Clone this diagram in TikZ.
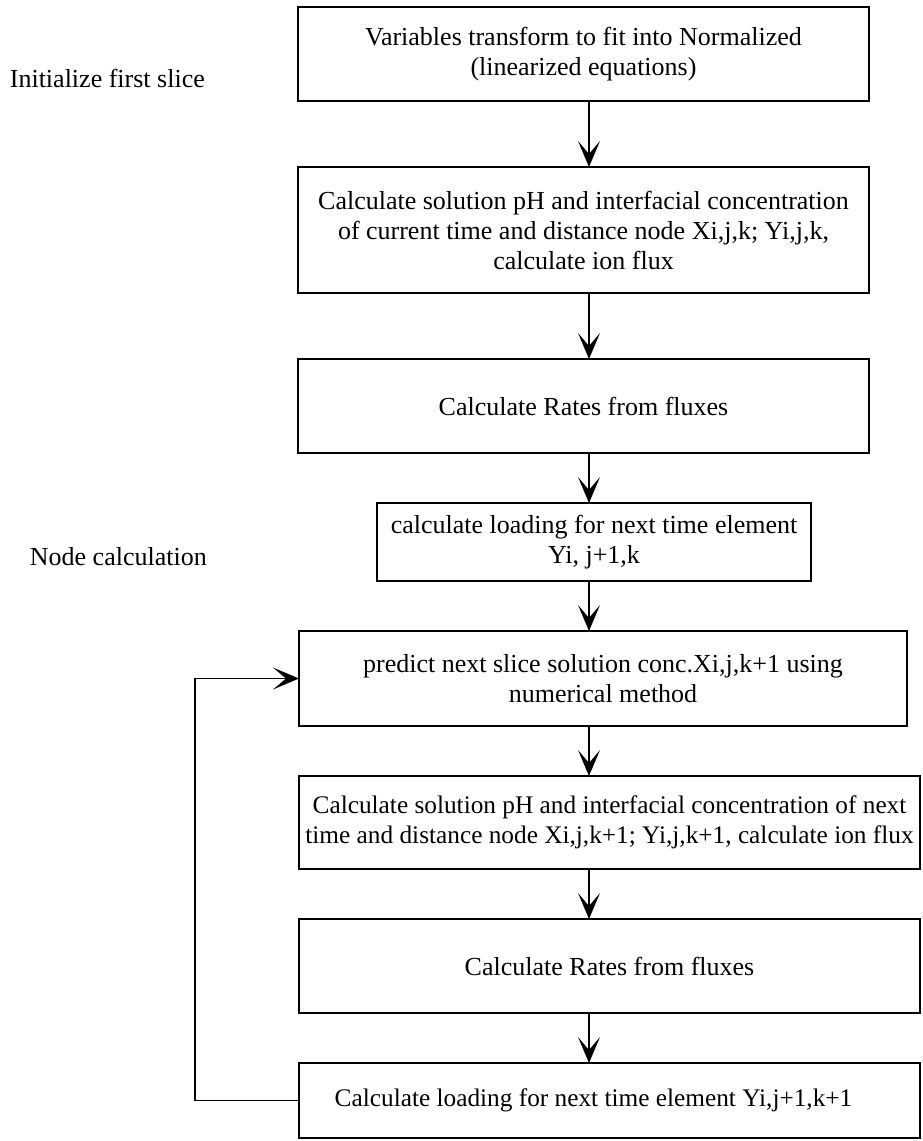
\documentclass[tikz,border=0pt]{standalone}
\usepackage{fontspec}
\setmainfont{Liberation Serif}
\usetikzlibrary{positioning}
\usetikzlibrary{arrows.meta}
\tikzstyle{box} = [draw, line width=2pt, rectangle, align=center, inner sep=2pt, outer sep=0pt, minimum width=571pt, minimum height=94pt]
\tikzstyle{note} = [anchor=east, inner sep=0pt]
\tikzstyle{tight} = [font=\fontsize{25.3}{30}\selectfont, inner sep=1pt]
\tikzstyle{flow} = [line width=1.3pt, -{Stealth[length=26pt,width=22pt,inset=13pt]}]

\begin{document}
\begin{tikzpicture}[
  x=1pt, y=-1pt,
  every node/.style={font=\fontsize{26}{30}\selectfont},
]
\useasboundingbox (0,0) rectangle (922,1141);

\node (b1) [box] at (583.5,54) {Variables transform to fit into Normalized\\(linearized equations)};
\node (b2) [box, minimum height=126pt, below=66pt of b1] {Calculate solution pH and interfacial concentration\\of current time and distance node Xi,j,k; Yi,j,k,\\calculate ion flux};
\node (b3) [box, below=66pt of b2] {Calculate Rates from fluxes};
\node (b4) [box, minimum width=434pt, minimum height=78pt, below right=50pt and 79pt of b3.south west] {calculate loading for next time element\\Yi, j+1,k};
\node (b5) [box, minimum width=608pt, minimum height=95pt, below=50pt of b4.south west, xshift=-78pt, anchor=north west] {predict next slice solution conc.Xi,j,k+1 using\\numerical method};
\node (b6) [box, tight, minimum width=621pt, minimum height=93pt, below=50pt of b5.south west, anchor=north west] {Calculate solution pH and interfacial concentration of next\\time and distance node Xi,j,k+1; Yi,j,k+1, calculate ion flux};
\node (b7) [box, minimum width=621pt, below=50pt of b6] {Calculate Rates from fluxes};
\node (b8) [box, tight, minimum width=621pt, minimum height=75pt, below=50pt of b7] {Calculate loading for next time element Yi,j+1,k+1\hspace*{32pt}};

% side labels
\node (init) [note] at (205,78) {Initialize first slice};
\node (calc) [note] at (207,557) {Node calculation};

% main flow
\coordinate (spine) at (589,0);
\draw[flow] (b1.south -| spine) -- (b2.north -| spine);
\draw[flow] (b2.south -| spine) -- (b3.north -| spine);
\draw[flow] (b3.south -| spine) -- (b4.north -| spine);
\draw[flow] (b4.south -| spine) -- (b5.north -| spine);
\draw[flow] (b5.south -| spine) -- (b6.north -| spine);
\draw[flow] (b6.south -| spine) -- (b7.north -| spine);
\draw[flow] (b7.south -| spine) -- (b8.north -| spine);

% loop back
\coordinate (back) at (195,0);
\draw[flow] (b8.west) -- (b8.west -| back) |- (b5.west);
\end{tikzpicture}
\end{document}
